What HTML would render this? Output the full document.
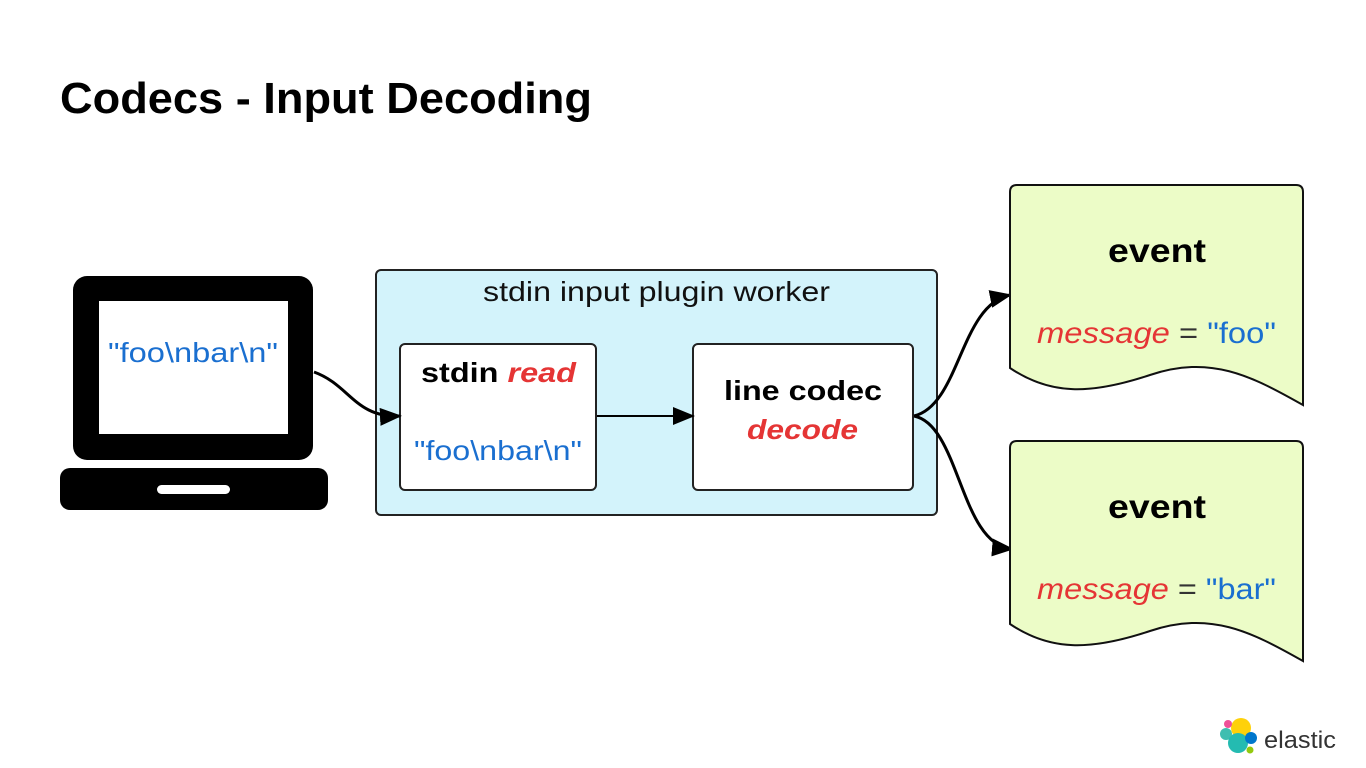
<!DOCTYPE html>
<html><head><meta charset="utf-8"><style>
html,body{margin:0;padding:0;background:#fff;}
svg{display:block;font-family:"Liberation Sans",Arial,sans-serif;}
</style></head><body>
<svg width="1366" height="768" viewBox="0 0 1366 768" xmlns="http://www.w3.org/2000/svg">
<defs>
<marker id="ar2" markerWidth="22" markerHeight="18" refX="20" refY="9" orient="auto" markerUnits="userSpaceOnUse">
<path d="M0,0 L22,9 L0,18 Z" fill="#000"/>
</marker>
</defs>
<text x="60" y="113" font-size="44" font-weight="bold" fill="#000" textLength="532" lengthAdjust="spacingAndGlyphs">Codecs - Input Decoding</text>

<!-- laptop -->
<rect x="73" y="276" width="240" height="184" rx="14" fill="#000"/>
<rect x="99" y="301" width="189" height="133" fill="#fff"/>
<text x="108" y="362" font-size="28" fill="#1a6fd0" textLength="170" lengthAdjust="spacingAndGlyphs">"foo\nbar\n"</text>
<rect x="60" y="468" width="268" height="42" rx="10" fill="#000"/>
<rect x="157" y="485" width="73" height="9" rx="4.5" fill="#fff"/>

<!-- outer box -->
<rect x="376" y="270" width="561" height="245" rx="5" fill="#d3f3fb" stroke="#222" stroke-width="2"/>
<text x="483" y="301" font-size="28" fill="#111" textLength="347" lengthAdjust="spacingAndGlyphs">stdin input plugin worker</text>

<rect x="400" y="344" width="196" height="146" rx="5" fill="#fff" stroke="#222" stroke-width="2"/>
<text x="421" y="382" font-size="28" font-weight="bold" textLength="155" lengthAdjust="spacingAndGlyphs"><tspan fill="#000">stdin </tspan><tspan fill="#e53535" font-style="italic">read</tspan></text>
<text x="414" y="460" font-size="28" fill="#1a6fd0" textLength="168" lengthAdjust="spacingAndGlyphs">"foo\nbar\n"</text>

<rect x="693" y="344" width="220" height="146" rx="5" fill="#fff" stroke="#222" stroke-width="2"/>
<text x="724" y="400" font-size="28" font-weight="bold" fill="#000" textLength="158" lengthAdjust="spacingAndGlyphs">line codec</text>
<text x="747" y="439" font-size="28" font-weight="bold" font-style="italic" fill="#e53535" textLength="111" lengthAdjust="spacingAndGlyphs">decode</text>

<!-- connectors -->
<path d="M314,372 C350,385 355,418 400,416" fill="none" stroke="#000" stroke-width="3" marker-end="url(#ar2)"/>
<line x1="597" y1="416" x2="693" y2="416" stroke="#000" stroke-width="2" marker-end="url(#ar2)"/>
<path d="M914,416 C960,405 960,305 1010,295" fill="none" stroke="#000" stroke-width="3" marker-end="url(#ar2)"/>
<path d="M914,416 C960,425 960,545 1012,549" fill="none" stroke="#000" stroke-width="3" marker-end="url(#ar2)"/>

<!-- event docs -->
<g stroke="#111" stroke-width="2" fill="#ecfcc7">
<path d="M1017,185 L1296,185 Q1303,185 1303,192 L1303,405 C1250,375 1210,355 1150,375 C1090,395 1050,395 1010,368 L1010,192 Q1010,185 1017,185 Z"/>
<path d="M1017,441 L1296,441 Q1303,441 1303,448 L1303,661 C1250,631 1210,611 1150,631 C1090,651 1050,651 1010,624 L1010,448 Q1010,441 1017,441 Z"/>
</g>
<text x="1108" y="262" font-size="33" font-weight="bold" fill="#000" textLength="98" lengthAdjust="spacingAndGlyphs">event</text>
<text x="1037" y="343" font-size="30" textLength="239" lengthAdjust="spacingAndGlyphs"><tspan fill="#e53535" font-style="italic">message</tspan><tspan fill="#333"> = </tspan><tspan fill="#1a6fd0">"foo"</tspan></text>
<text x="1108" y="518" font-size="33" font-weight="bold" fill="#000" textLength="98" lengthAdjust="spacingAndGlyphs">event</text>
<text x="1037" y="599" font-size="30" textLength="239" lengthAdjust="spacingAndGlyphs"><tspan fill="#e53535" font-style="italic">message</tspan><tspan fill="#333"> = </tspan><tspan fill="#1a6fd0">"bar"</tspan></text>

<!-- elastic logo -->
<circle cx="1241" cy="728" r="10" fill="#fed10a"/>
<circle cx="1228" cy="724" r="4" fill="#ef5098"/>
<circle cx="1226" cy="734" r="6" fill="#3ebeb0"/>
<circle cx="1238" cy="743" r="10" fill="#24bbb1"/>
<circle cx="1251" cy="738" r="6" fill="#0077cc"/>
<circle cx="1250" cy="750" r="3.5" fill="#93c90e"/>
<text x="1264" y="748" font-size="24" fill="#333" textLength="72" lengthAdjust="spacingAndGlyphs">elastic</text>
</svg>
</body></html>
